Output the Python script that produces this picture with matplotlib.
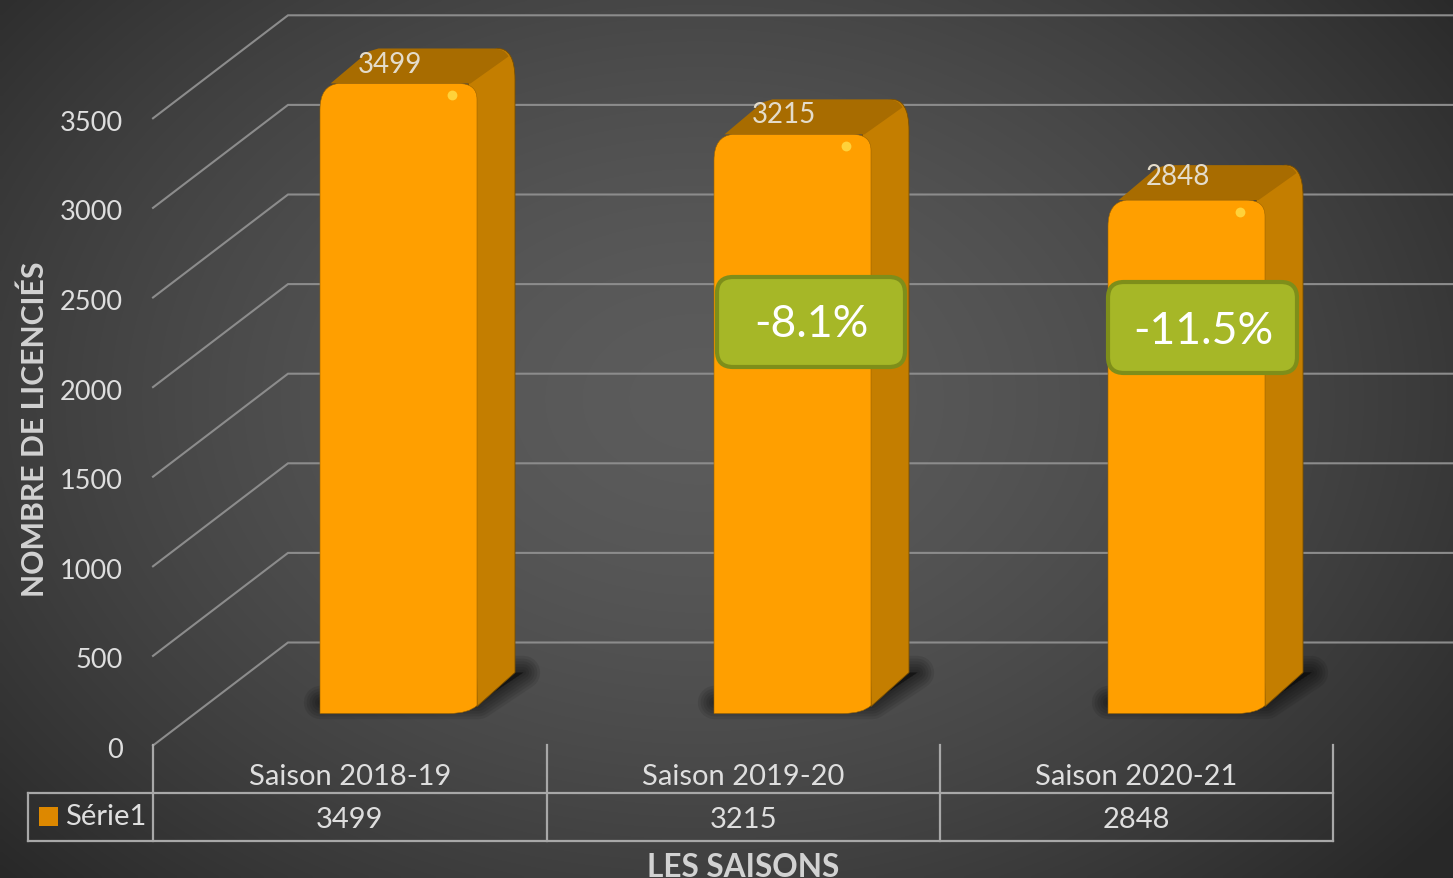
import numpy as np
import matplotlib
matplotlib.use("Agg")
import matplotlib.pyplot as plt
from matplotlib.path import Path
from matplotlib.patches import PathPatch, Polygon, FancyBboxPatch, Rectangle

seasons = ["Saison 2018-19", "Saison 2019-20", "Saison 2020-21"]
licences = [3499, 3215, 2848]
series_name = "Série1"
changes = [None, "-8.1%", "-11.5%"]
y_ticks = [0, 500, 1000, 1500, 2000, 2500, 3000, 3500]
y_title = "NOMBRE DE LICENCIÉS"
x_title = "LES SAISONS"
label_lift = [19.5, 20.5, 24.0]

W, H = 1453, 879
X0, XS = 398.5, 394.0    # pixel of category 0, pixels per category
Y0, YS = 710.0, 0.1792   # pixel of value 0, pixels per unit

plt.rcParams["font.family"] = ["Lato", "DejaVu Sans"]
fig = plt.figure(figsize=(W / 100, H / 100), dpi=100)
ax = fig.add_axes([0, 0, 1, 1])
xlim = ((0 - X0) / XS, (W - X0) / XS)
ylim = ((Y0 - H + 1.5) / YS, (Y0 + 1.5) / YS)
ax.set_xlim(*xlim)
ax.set_ylim(*ylim)
ax.axis("off")


def xp(p):
    return (p - X0) / XS


def yp(p):
    return (Y0 - p) / YS


# background
gx, gy = np.meshgrid(np.linspace(0, W, 363), np.linspace(0, H, 220))
r = np.sqrt(((gx - 700) / 850) ** 2 + ((gy - 400) / 620) ** 2)
g = np.clip(0.36 - 0.167 * r ** 1.6, 0.16, 1)
ax.imshow(np.dstack([g, g, g]), extent=(*xlim, *ylim), origin="upper",
          aspect="auto", zorder=0, interpolation="bilinear")

# walls
GRID = "#8c8c8c"
wall_x0, wall_x1 = xp(153), xp(288)
front_off, back_off = yp(745), yp(642)
for v in y_ticks:
    ax.plot([wall_x0, wall_x1, xlim[1]], [v + front_off, v + back_off, v + back_off],
            color=GRID, lw=1.5, zorder=1, solid_joinstyle="miter")
    ax.text(xp(123), v + yp(749), str(v), ha="right", va="center",
            fontsize=19.5, color="#dedede", zorder=5)


# bars
def draw_bar(i, v, lift):
    def P(dx, dy_top=None, dy_base=None):
        # dx pixels from bar centre; dy pixels above the top or above the base
        x = i + dx / XS
        return (x, v + dy_top / YS) if dy_top is not None else (x, dy_base / YS)

    shadow = [P(-78, dy_base=8), P(116, dy_base=38), P(125, dy_base=38), P(80, dy_base=8)]
    for lw in (24, 20, 16, 12, 8, 4):
        ax.add_patch(Polygon(shadow, closed=True, fc="black", ec="black", lw=lw,
                             alpha=0.09, joinstyle="round", zorder=2))

    side = Path([P(70, dy_top=0), P(98, dy_top=35), P(116.5, dy_top=36), P(116.5, dy_top=4),
                 P(116.5, dy_base=38), P(78.5, dy_base=4), P(70, dy_top=0)],
                [Path.MOVETO, Path.LINETO, Path.CURVE3, Path.CURVE3,
                 Path.LINETO, Path.LINETO, Path.CLOSEPOLY])
    ax.add_patch(PathPatch(side, fc="#c47e00", ec="#7a4f00", lw=0.6, zorder=3))

    top = Path([P(-68, dy_top=0), P(-30, dy_top=32), P(-20, dy_top=35), P(95, dy_top=35),
                P(106, dy_top=35), P(110, dy_top=27), P(72, dy_top=0), P(-68, dy_top=0)],
               [Path.MOVETO, Path.LINETO, Path.LINETO, Path.LINETO,
                Path.CURVE3, Path.CURVE3, Path.LINETO, Path.CLOSEPOLY])
    ax.add_patch(PathPatch(top, fc="#a86c00", ec="none", zorder=3))

    front = Path([P(-78.5, dy_base=-3), P(-78.5, dy_top=-26), P(-78.5, dy_top=-2), P(-60, dy_top=0),
                  P(60, dy_top=0), P(78.5, dy_top=0), P(78.5, dy_top=-16), P(78.5, dy_base=5),
                  P(70, dy_base=-3), P(50, dy_base=-3), P(-78.5, dy_base=-3)],
                 [Path.MOVETO, Path.LINETO, Path.CURVE3, Path.CURVE3,
                  Path.LINETO, Path.CURVE3, Path.CURVE3, Path.LINETO,
                  Path.CURVE3, Path.CURVE3, Path.CLOSEPOLY])
    ax.add_patch(PathPatch(front, fc="#ff9f00", ec="#9c6400", lw=0.4, zorder=4))
    ax.scatter([i + 53.5 / XS], [v - 11.5 / YS], s=50, color="#ffd23a", lw=0, zorder=5,
               marker="o")

    ax.text(i - 8.5 / XS, v + lift / YS, str(v), ha="center", va="center", fontsize=20,
            color="#e4dccb", zorder=6)


for i, (v, lift) in enumerate(zip(licences, label_lift)):
    draw_bar(i, v, lift)


# callouts
def callout(text, left, right, top, bottom, cx, cy):
    aspect = (1 / YS) / (1 / XS)
    rad = 16 / XS
    box = FancyBboxPatch((xp(left) + rad, yp(bottom) + rad * aspect),
                         xp(right) - xp(left) - 2 * rad,
                         yp(top) - yp(bottom) - 2 * rad * aspect,
                         boxstyle=f"round,pad={rad},rounding_size={rad}",
                         mutation_aspect=aspect, fc="#a6b727", ec="#7e8e1a", lw=3, zorder=7)
    ax.add_patch(box)
    ax.text(xp(cx), yp(cy), text, ha="center", va="center", fontsize=32,
            color="white", zorder=8)


callout(changes[1], 717, 905, 276.5, 366.5, 811, 323)
callout(changes[2], 1108, 1297, 281.5, 372.5, 1203, 330)

# data table
TBL = "#a8a8a8"
edges = [xp(153), xp(547), xp(940), xp(1333)]
for e in edges:
    ax.plot([e, e], [yp(744), yp(840)], color=TBL, lw=1.6, zorder=5)
for p in (792, 840):
    ax.plot([xp(28), edges[-1]], [yp(p), yp(p)], color=TBL, lw=1.6, zorder=5)
ax.plot([xp(28), xp(28)], [yp(792), yp(840)], color=TBL, lw=1.6, zorder=5)
for k, (s, v) in enumerate(zip(seasons, licences)):
    c = (edges[k] + edges[k + 1]) / 2
    ax.text(c, yp(776), s, ha="center", va="center", fontsize=21, color="#dedede", zorder=6)
    ax.text(c, yp(819), str(v), ha="center", va="center", fontsize=21, color="#dedede", zorder=6)
ax.add_patch(Rectangle((xp(39), yp(825.5)), xp(58) - xp(39), yp(806.5) - yp(825.5),
                       fc="#dd8800", ec="none", zorder=6))
ax.text(xp(65), yp(816), series_name, ha="left", va="center", fontsize=21,
        color="#dedede", zorder=6)

# axis titles
ax.text(xp(35), yp(428), y_title, rotation=90, ha="center", va="center", fontsize=21.8,
        fontweight="bold", color="#d2d2d2", zorder=6)
ax.text(xp(743), yp(866), x_title, ha="center", va="center", fontsize=22.8,
        fontweight="bold", color="#d2d2d2", zorder=6)

fig.savefig("out.png", dpi=100)
